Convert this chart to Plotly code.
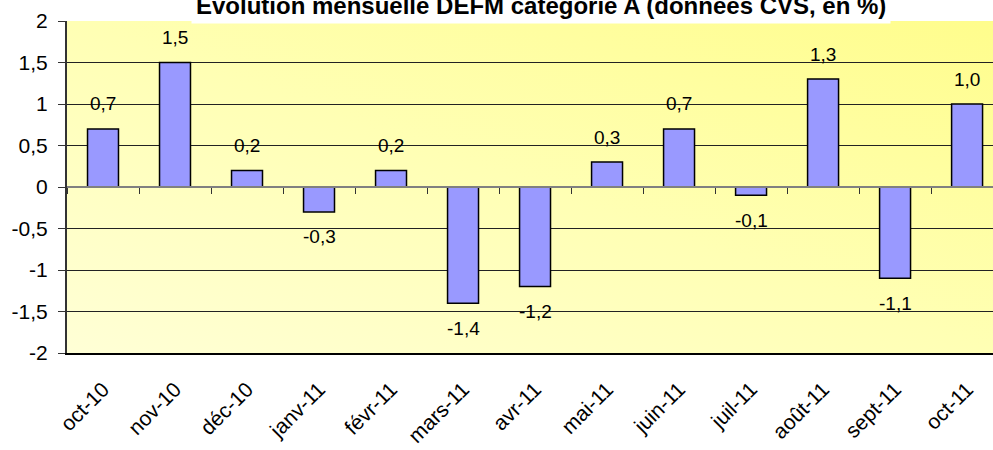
import base64
import plotly.graph_objects as go

categories = ["oct-10", "nov-10", "déc-10", "janv-11", "févr-11", "mars-11", "avr-11",
              "mai-11", "juin-11", "juil-11", "août-11", "sept-11", "oct-11"]
values = [0.7, 1.5, 0.2, -0.3, 0.2, -1.4, -1.2, 0.3, 0.7, -0.1, 1.3, -1.1, 1.0]
y_ticks = [-2, -1.5, -1, -0.5, 0, 0.5, 1, 1.5, 2]
y_tick_labels = ["-2", "-1,5", "-1", "-0,5", "0", "0,5", "1", "1,5", "2"]
title_text = "Evolution mensuelle DEFM catégorie A (données CVS, en %)"

FONT = "Arial, Liberation Sans, sans-serif"

svg = ('<svg xmlns="http://www.w3.org/2000/svg" width="100" height="100" preserveAspectRatio="none">'
       '<defs><linearGradient id="g" x1="0" y1="1" x2="1" y2="0">'
       '<stop offset="0" stop-color="#FFFFD6"/><stop offset="0.5" stop-color="#FFFFB4"/>'
       '<stop offset="1" stop-color="#FFFD8C"/></linearGradient></defs>'
       '<rect width="100" height="100" fill="url(#g)"/></svg>')
svg_uri = "data:image/svg+xml;base64," + base64.b64encode(svg.encode()).decode()

fig = go.Figure()
fig.add_trace(go.Bar(
    x=categories, y=values, width=0.43,
    marker=dict(color="#9999FF", line=dict(color="#000000", width=1.5)),
    hoverinfo="skip", showlegend=False,
))
# invisible trace to carry the zero-line axis with boundary ticks
fig.add_trace(go.Scatter(x=categories, y=[0] * len(categories), xaxis="x2", mode="markers",
                         marker=dict(opacity=0), hoverinfo="skip", showlegend=False))

for c, v in zip(categories, values):
    fig.add_annotation(
        x=c, y=v, xref="x", yref="y",
        text=f"{v:.1f}".replace(".", ","),
        showarrow=False, yanchor="middle",
        yshift=25 if v >= 0 else -25,
        font=dict(family=FONT, size=19, color="#000000"),
    )

fig.add_annotation(
    xref="paper", yref="paper", x=0.512, y=0.992, xanchor="center", yanchor="bottom",
    text="<b>" + title_text + "</b>", showarrow=False,
    bgcolor="#FFFFFF", borderpad=4,
    font=dict(family=FONT, size=24, color="#000000"),
)

fig.add_layout_image(dict(source=svg_uri, xref="paper", yref="paper", x=0, y=1,
                          sizex=1, sizey=1, sizing="stretch", layer="below",
                          xanchor="left", yanchor="top"))

fig.update_layout(
    width=993, height=450,
    margin=dict(l=67, r=0, t=21, b=97, autoexpand=False),
    paper_bgcolor="#FFFFFF", plot_bgcolor="rgba(0,0,0,0)",
    separators=", ",
    font=dict(family=FONT, color="#000000"),
    xaxis=dict(
        type="category", categoryorder="array", categoryarray=categories,
        range=[-0.5, 12.36], showgrid=False, zeroline=False, automargin=False,
        showline=True, linecolor="#000000", linewidth=1.5,
        ticks="", tickangle=-45, ticklabelstandoff=14,
        tickfont=dict(family=FONT, size=21, color="#000000"),
    ),
    xaxis2=dict(
        type="category", overlaying="x", matches="x", anchor="free", position=0.5,
        showgrid=False, zeroline=False, showline=True, linecolor="#808080", linewidth=2,
        ticks="outside", tickson="boundaries", ticklen=6, tickcolor="#333333", tickwidth=1.2,
        showticklabels=False, side="bottom", automargin=False,
    ),
    yaxis=dict(
        range=[-2, 2], tickvals=y_ticks, ticktext=y_tick_labels, automargin=False,
        showgrid=True, gridcolor="#222222", gridwidth=1,
        zeroline=False, showline=True, linecolor="#333333", linewidth=2,
        ticks="outside", ticklen=7, tickcolor="#333333", ticklabelstandoff=6,
        tickfont=dict(family=FONT, size=21, color="#000000"),
    ),
)

fig.write_html("out.html", config={"displayModeBar": False},
               post_script="document.body.style.margin='0';document.body.style.overflow='hidden';")
